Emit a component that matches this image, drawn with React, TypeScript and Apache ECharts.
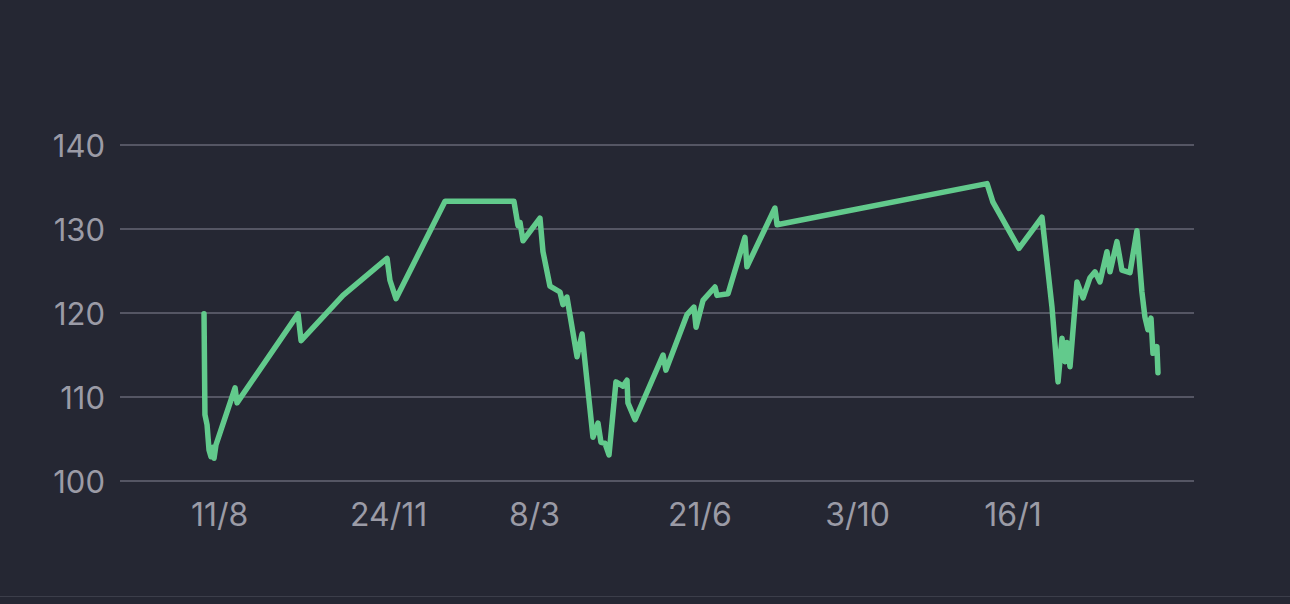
import React, { useEffect, useRef } from "react";
import * as echarts from "echarts";

// Days since 11 Aug 2023 and the values at those days
const baseDate = [2023, 7, 11]; // 11 Aug 2023 (month is 0-based)
const dayOffsets = [
  8.6, 9.2, 10.6, 11.9, 13.2, 14.5, 15.2, 16.5, 29.1, 30.4,
  70.7, 72.7, 100.4, 129.5, 131.4, 135.4, 167.8, 213.3, 216.0, 217.3,
  219.3, 230.5, 232.5, 237.1, 243.7, 245.7, 248.3, 255.0, 258.3, 265.5,
  268.8, 270.8, 273.4, 276.1, 280.7, 285.3, 288.0, 288.6, 293.3, 311.8,
  313.7, 327.6, 332.2, 333.6, 338.2, 346.1, 347.4, 354.7, 365.9, 367.2,
  385.7, 387.1, 525.8, 529.7, 546.9, 562.1, 568.7, 572.7, 575.3, 577.3,
  578.6, 580.6, 585.2, 589.2, 593.8, 597.1, 600.4, 605.0, 607.0, 611.6,
  614.9, 620.2, 624.8, 628.1, 630.1, 632.1, 634.1, 635.4, 638.0, 638.7,
];
const values = [
  119.9, 107.9, 106.7, 103.7, 102.9, 104.0, 102.7, 104.3, 111.1, 109.3,
  119.9, 116.7, 122.1, 126.5, 123.9, 121.7, 133.3, 133.3, 130.4, 130.8,
  128.6, 131.3, 127.3, 123.2, 122.5, 121.0, 121.9, 114.8, 117.5, 105.2,
  106.9, 104.6, 104.5, 103.1, 111.8, 111.3, 112.0, 109.3, 107.3, 115.0,
  113.2, 119.8, 120.7, 118.3, 121.5, 123.1, 122.1, 122.3, 129.0, 125.5,
  132.5, 130.5, 135.4, 133.2, 127.7, 131.4, 120.7, 111.8, 117.0, 114.2,
  116.5, 113.6, 123.7, 121.8, 124.2, 124.9, 123.7, 127.3, 124.9, 128.5,
  125.1, 124.8, 129.8, 122.5, 119.5, 118.0, 119.4, 115.2, 116.0, 112.9,
];
const tickDates = ["2023-08-11", "2023-11-24", "2024-03-08", "2024-06-21", "2024-10-03", "2025-01-16"];
const xRangeDays = [-46.9, 662.5];
const yTicks = [100, 110, 120, 130, 140];

const DAY = 86400000;
const baseUTC = Date.UTC(baseDate[0], baseDate[1], baseDate[2]);
const dayOf = (s: string) => {
  const [y, m, d] = s.split("-").map(Number);
  return Math.round((Date.UTC(y, m - 1, d) - baseUTC) / DAY);
};
const tickDays = tickDates.map(dayOf);
const labelOf = (day: number) => {
  const dt = new Date(baseUTC + Math.round(day) * DAY);
  return `${dt.getUTCDate()}/${dt.getUTCMonth() + 1}`;
};

export default function App() {
  const ref = useRef<HTMLDivElement>(null);
  useEffect(() => {
    document.body.style.margin = "0";
    document.body.style.background = "#252733";
    const chart = echarts.init(ref.current!, undefined, { renderer: "svg" });
    const data = dayOffsets.map((d, i) => [d, values[i]]);
    chart.setOption({
      animation: false,
      backgroundColor: "#252733",
      grid: { left: 120, right: 96, top: 145, bottom: 123, containLabel: false },
      xAxis: {
        type: "value",
        min: xRangeDays[0],
        max: xRangeDays[1],
        axisLine: { show: false },
        axisTick: { show: false },
        splitLine: { show: false },
        axisLabel: {
          customValues: tickDays,
          formatter: (v: number) => labelOf(v),
          align: "left",
          margin: 17,
          fontSize: 32,
          color: "#9b9ba6",
          fontFamily: "Inter",
        },
      },
      yAxis: {
        type: "value",
        min: yTicks[0],
        max: yTicks[yTicks.length - 1],
        interval: 10,
        axisLine: { show: false },
        axisTick: { show: false },
        splitLine: { lineStyle: { color: "#555664", width: 2 } },
        axisLabel: {
          margin: 15,
          fontSize: 31,
          color: "#9b9ba6",
          fontFamily: "Inter",
        },
      },
      series: [
        {
          type: "line",
          data,
          showSymbol: false,
          lineStyle: { color: "#62ca8c", width: 5.5, join: "round", cap: "round" },
        },
      ],
      graphic: [
        {
          type: "line",
          shape: { x1: 0, y1: 596.5, x2: 1290, y2: 596.5 },
          style: { stroke: "#3c3e4a", lineWidth: 1 },
        },
      ],
    });
    return () => chart.dispose();
  }, []);
  return (
    <div
      ref={ref}
      style={{ position: "fixed", left: 0, top: 0, width: 1290, height: 604 }}
    />
  );
}
